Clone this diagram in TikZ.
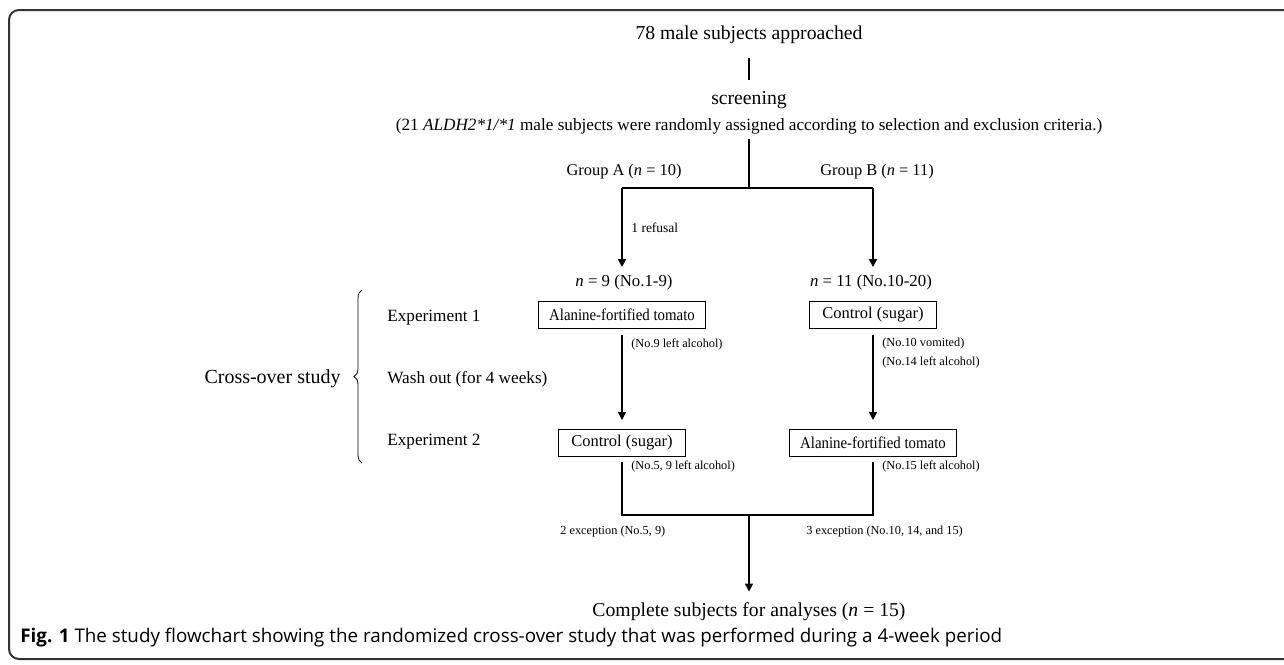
\documentclass[tikz,border=0pt]{standalone}
\usepackage{fontspec}
\setmainfont{Liberation Serif}
\newfontfamily\narrowserif{Liberation Serif}[FakeStretch=0.9]
\newfontfamily\capfont{Open Sans}
\usetikzlibrary{arrows.meta,positioning,decorations.pathreplacing}

\tikzset{every picture/.style={line width=0.75pt}}

\begin{document}
\begin{tikzpicture}[x=1pt,y=1pt,yscale=-1,
  txt/.style={inner sep=1pt,font=\fontsize{16.8}{20}\selectfont},
  big/.style={inner sep=1pt,font=\fontsize{19.7}{23}\selectfont},
  note/.style={inner sep=1pt,anchor=west,font=\fontsize{12.3}{14}\selectfont},
  armbox/.style={draw,line width=1pt,inner xsep=10.5pt,inner ysep=4pt,minimum height=27pt,minimum width=127pt,font=\fontsize{16.5}{20}\selectfont},
  fork/.style={line width=2pt},
  flow/.style={line width=1.3pt,-{Triangle[length=8pt,width=8pt]}}]
\useasboundingbox (0,0) rectangle (1284,664);

%Shape: Frame
\draw [line width=2pt,draw=black!80,rounded corners=10pt] (1300,10) -- (9,10) -- (9,659) -- (1300,659) ;

% Text Node
\node [big] (approached) at (749,35) {78 male subjects approached};
% Text Node
\node [big] (screening) at (749,100) {screening};
% Text Node
\node [txt,font=\fontsize{17.2}{20}\selectfont] (criteria) at (749,126) {(21 \textit{ALDH2*1/*1} male subjects were randomly assigned according to selection and exclusion criteria.)};
% Text Node
\node [txt,font=\fontsize{16.4}{20}\selectfont] (groupA) at (624,172) {Group A (\textit{n} = 10)};
% Text Node
\node [txt,font=\fontsize{16.4}{20}\selectfont] (groupB) at (877,172) {Group B (\textit{n} = 11)};
% Text Node
\node [note,font=\fontsize{13.5}{16}\selectfont] (refusal) at (630,228) {1 refusal};
% Text Node
\node [txt] (nA) at (624,282) {\textit{n} = 9 (No.1-9)};
% Text Node
\node [txt] (nB) at (871,282) {\textit{n} = 11 (No.10-20)};

%Shape: Rectangle
\node [armbox] (tomA) at (622,314.5) {\narrowserif Alanine-fortified tomato};
%Shape: Rectangle
\node [armbox] (ctrlB) at (873,314.5) {Control (sugar)};
%Shape: Rectangle
\node [armbox] (ctrlA) at (622,443) {Control (sugar)};
%Shape: Rectangle
\node [armbox] (tomB) at (873,443) {\narrowserif Alanine-fortified tomato};

% Text Node
\node [txt,font=\fontsize{17.2}{20}\selectfont,anchor=west] (expOne) at (386,318) {Experiment 1};
% Text Node
\node [txt,font=\fontsize{17.2}{20}\selectfont,anchor=west] (washOut) at (386,379) {Wash out (for 4 weeks)};
% Text Node
\node [txt,font=\fontsize{17.2}{20}\selectfont,anchor=west] (expTwo) at (386,442) {Experiment 2};
% Text Node
\node [big,font=\fontsize{20}{24}\selectfont,anchor=east] (crossOver) at (342,379) {Cross-over study};
%Curve Lines: brace
\draw [decorate,decoration={brace,amplitude=8pt},line width=0.8pt] (362,463) -- (362,290) ;

% Text Node
\node [note] (leftA) at (630,344) {(No.9 left alcohol)};
% Text Node
\node [note] (vomitB) at (881,344) {(No.10 vomited)};
% Text Node
\node [note] (leftB) at (881,362) {(No.14 left alcohol)};
% Text Node
\node [note] (leftA2) at (630,466) {(No.5, 9 left alcohol)};
% Text Node
\node [note] (leftB2) at (881,466) {(No.15 left alcohol)};
% Text Node
\node [note] (excA) at (559,532) {2 exception (No.5, 9)};
% Text Node
\node [note] (excB) at (805,532) {3 exception (No.10, 14, and 15)};
% Text Node
\node [big] (complete) at (749,612) {Complete subjects for analyses (\textit{n} = 15)};
% Text Node
\node [anchor=west,inner sep=0pt,font=\capfont\fontsize{18.8}{22}\selectfont] (caption) at (20,638) {\textbf{Fig. 1} The study flowchart showing the randomized cross-over study that was performed during a 4-week period};

\coordinate (split) at (749,188);
\coordinate (forkA) at (622,188);
\coordinate (forkB) at (873,188);
\coordinate (joinA) at (622,515);
\coordinate (joinB) at (873,515);
\coordinate (joinC) at (749,515);

%Straight Lines
\draw [line width=1.4pt,shorten <=13pt,shorten >=10pt] (approached) -- (screening) ;
\draw [fork,shorten <=4pt] (criteria) -- (split) ;
\draw [fork] (forkA) -- (forkB) ;
\draw [flow,line width=1.8pt,shorten >=6pt] (forkA) -- (nA.north -| forkA) ;
\draw [flow,line width=1.8pt,shorten >=6pt] (forkB) -- (nB.north -| forkB) ;
\draw [flow,shorten <=6pt,shorten >=9pt] (tomA) -- (ctrlA) ;
\draw [flow,shorten <=6pt,shorten >=9pt] (ctrlB) -- (tomB) ;
\draw [fork,shorten <=5pt,shorten >=5pt] (ctrlA) -- (joinA) -- (joinB) -- (tomB) ;
\draw [flow,shorten >=10pt] (joinC) -- (complete) ;

\end{tikzpicture}
\end{document}
